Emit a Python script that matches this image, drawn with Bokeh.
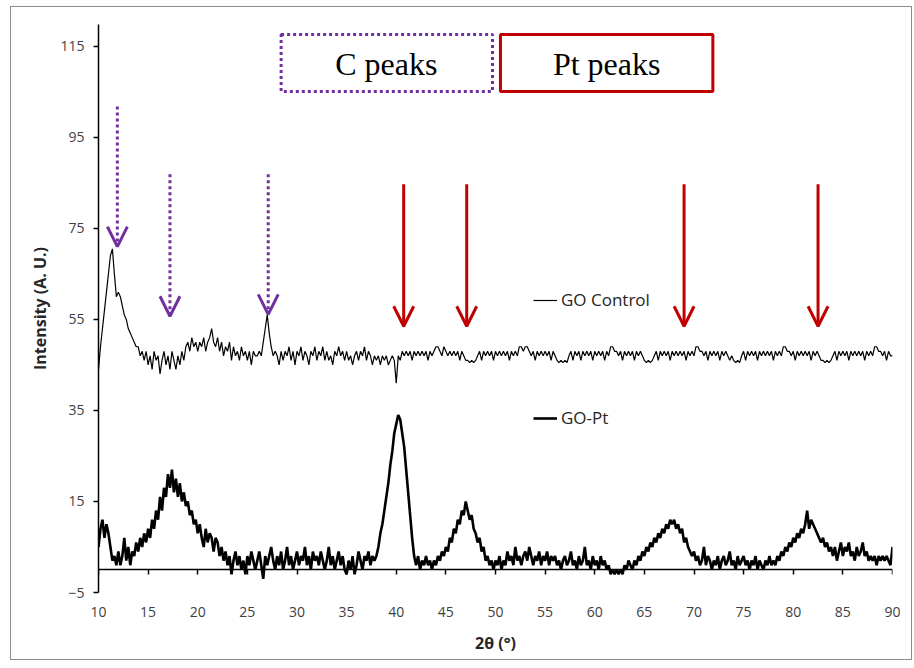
import numpy as np
from bokeh.plotting import figure
from bokeh.models import (Range1d, LinearAxis, FixedTicker, Arrow, OpenHead,
                          BoxAnnotation, Legend, LegendItem, Label)
from bokeh.embed import file_html
from bokeh.resources import INLINE

# ---------------- data ----------------
two_theta_start = 10.0
two_theta_step = 0.2

go_control = [
    44, 49, 53, 57, 61,
    65, 69, 70.5, 65, 60,
    61, 60, 58, 56, 55,
    53, 52, 51, 50, 49,
    49, 47, 48, 46, 48,
    45, 47, 44, 48, 46,
    47, 43, 46, 48, 45,
    47, 44, 48, 46, 44,
    47, 45, 48, 46, 49,
    50, 48, 51, 49, 50,
    48, 50, 49, 51, 48,
    50, 51, 53, 50, 49,
    51, 48, 50, 47, 49,
    48, 50, 46, 49, 47,
    48, 46, 49, 47, 48,
    46, 48, 45, 48, 47,
    47, 48, 47, 50, 53,
    56, 52, 49, 47, 48,
    47, 45, 48, 46, 48,
    47, 49, 46, 48, 45,
    48, 47, 49, 46, 48,
    47, 45, 48, 47, 49,
    46, 48, 47, 49, 46,
    48, 46, 47, 45, 48,
    47, 49, 47, 48, 46,
    48, 46, 47, 45, 47,
    48, 46, 48, 47, 49,
    46, 48, 47, 45, 47,
    46, 47, 45, 47, 46,
    47, 45, 46, 47, 46,
    41, 47, 46, 48, 47,
    48, 47, 48, 46, 48,
    47, 48, 47, 48, 47,
    48, 46, 48, 47, 48,
    49, 49, 48, 47, 49,
    48, 47, 48, 47, 48,
    47, 48, 46, 48, 47,
    46, 46, 45.5, 46, 45.5,
    46, 47, 48, 46, 48,
    47, 48, 47, 48, 46,
    48, 47, 48, 47, 48,
    47, 48, 46, 48, 47,
    48, 47, 49, 49, 48,
    49, 49, 48, 47, 48,
    46, 48, 47, 48, 47,
    48, 47, 48, 46, 48,
    47, 46, 45.5, 46, 45.5,
    46, 45.5, 47, 48, 46,
    48, 47, 48, 46, 48,
    47, 48, 47, 48, 46,
    48, 47, 48, 47, 48,
    46, 48, 47, 49, 49,
    48, 48, 47, 48, 46,
    48, 47, 48, 47, 48,
    46, 48, 47, 48, 47,
    46, 45.5, 46, 45.5, 46,
    47, 48, 46, 48, 47,
    48, 47, 48, 46, 48,
    47, 48, 47, 48, 47,
    48, 46, 48, 47, 48,
    47, 49, 49, 48, 48,
    47, 48, 46, 48, 47,
    48, 47, 48, 46, 48,
    47, 48, 47, 46, 47,
    46, 45.5, 46, 45.5, 47,
    48, 46, 48, 47, 48,
    47, 48, 46, 48, 47,
    48, 47, 48, 47, 48,
    46, 48, 47, 48, 47,
    49, 49, 48, 48, 47,
    48, 46, 48, 47, 48,
    47, 48, 47, 48, 46,
    48, 47, 48, 47, 46,
    46, 45.5, 46, 45.5, 46,
    47, 48, 46, 48, 47,
    48, 47, 48, 46, 48,
    47, 48, 47, 48, 47,
    48, 46, 48, 47, 48,
    47, 49, 49, 48, 48,
    47, 48, 46, 48, 47,
    47,
]

go_pt = [
    5, 9, 11, 7, 10,
    8, 5, 2, 3, 1,
    4, 1, 3, 7, 2,
    5, 1, 4, 3, 6,
    4, 7, 5, 8, 6,
    9, 7, 11, 9, 13,
    11, 16, 13, 18, 16,
    21, 18, 22, 17, 20,
    16, 19, 15, 17, 14,
    15, 12, 13, 10, 11,
    8, 10, 7, 5, 9,
    6, 8, 7, 4, 7,
    6, 3, 5, 2, 4,
    1, 3, -1, 2, 4,
    1, 3, 0, 2, -1,
    3, 1, 4, 2, 0,
    2, 4, 1, -2, 3,
    1, 3, 5, 2, 0,
    3, 1, 4, 0, 2,
    5, 1, 3, 0, 2,
    4, 1, 3, 2, 5,
    1, 3, 0, 4, 2,
    3, 1, 4, 2, 0,
    2, 5, 1, 3, 0,
    2, 4, 1, 3, 0,
    -1, 2, 0, 3, -1,
    1, 4, 2, 0, 3,
    2, 4, 1, 3, 2,
    3, 5, 8, 10, 13,
    16, 19, 23, 26, 30,
    32, 34, 33, 30, 27,
    22, 17, 12, 7, 3,
    1, 3, 0, 2, 1,
    3, 1, 2, 0, 2,
    1, 3, 2, 4, 3,
    5, 4, 7, 6, 9,
    8, 11, 10, 13, 12,
    15, 13, 11, 12, 9,
    8, 6, 7, 4, 5,
    2, 3, 1, 2, 0,
    2, 1, 3, 0, 2,
    1, 4, 2, 3, 1,
    5, 2, 3, 1, 3,
    4, 2, 5, 3, 1,
    3, 2, 4, 1, 3,
    2, 4, 1, 3, 2,
    3, 1, 2, 0, 2,
    3, 1, 2, 4, 1,
    2, 0, 3, 1, 2,
    5, 1, 2, 0, 3,
    1, 2, 0, 3, 1,
    2, 0, 1, -1, 0,
    -1, 0, -1, 0, -1,
    1, 0, 2, 1, 0,
    2, 1, 3, 2, 4,
    3, 5, 4, 6, 5,
    7, 6, 8, 7, 9,
    8, 10, 9, 11, 10,
    11, 9, 10, 8, 9,
    6, 7, 5, 4, 3,
    4, 2, 3, 1, 2,
    5, 1, 3, 2, 0,
    2, 1, 3, 0, 2,
    3, 1, 2, 4, 1,
    2, 0, 3, 1, 2,
    3, 1, 2, 0, 2,
    1, 3, 0, 2, 1,
    0, 2, 1, 3, 1,
    2, 1, 3, 2, 4,
    3, 5, 4, 6, 5,
    7, 6, 8, 7, 9,
    8, 10, 13, 9, 11,
    10, 9, 8, 7, 6,
    7, 5, 6, 4, 5,
    3, 5, 2, 4, 6,
    3, 5, 4, 6, 3,
    4, 2, 5, 3, 4,
    6, 3, 4, 2, 3,
    2, 3, 1, 3, 2,
    3, 2, 3, 2, 1,
    5,
]

x_ticks = [10, 15, 20, 25, 30, 35, 40, 45, 50, 55, 60, 65, 70, 75, 80, 85, 90]
y_ticks = [-5, 15, 35, 55, 75, 95, 115]

c_peak_x = [11.9, 17.2, 27.1]
c_arrow_top = [101.8, 86.9, 86.9]
c_arrow_tip = [71.0, 55.7, 56.1]

pt_peak_x = [40.75, 47.1, 69.0, 82.5]
pt_arrow_top = [84.7, 84.7, 84.7, 84.7]
pt_arrow_tip = [53.5, 53.5, 53.5, 53.5]

two_theta_ctrl = np.round(two_theta_start + two_theta_step * np.arange(len(go_control)), 2)
two_theta_pt = np.round(two_theta_start + two_theta_step * np.arange(len(go_pt)), 2)

# ---------------- figure ----------------
FONT = "Open Sans"
PURPLE = "#7030A0"
RED = "#C00000"

p = figure(width=902, height=654, output_backend="svg", toolbar_location=None,
           x_range=Range1d(10, 90), y_range=Range1d(-5, 119.8),
           min_border_left=87, min_border_right=21, min_border_top=17, min_border_bottom=69,
           background_fill_color="white", border_fill_color="white")
p.margin = (6, 0, 0, 10)
p.styles = {"border": "1px solid #8c8c8c"}
p.outline_line_color = None
p.xgrid.visible = False
p.ygrid.visible = False

# y axis
ya = p.yaxis[0]
ya.ticker = FixedTicker(ticks=y_ticks)
ya.axis_line_color = "black"
ya.axis_line_width = 1.5
ya.major_tick_line_color = "black"
ya.major_tick_line_width = 1.5
ya.major_tick_out = 5
ya.major_tick_in = 0
ya.minor_tick_line_color = None
ya.major_label_standoff = 9
ya.major_label_text_font = FONT
ya.major_label_text_font_size = "14px"
ya.major_label_text_color = "#404040"
ya.axis_label = "Intensity (A. U.)"
ya.axis_label_text_font = FONT
ya.axis_label_text_font_size = "16px"
ya.axis_label_text_font_style = "bold"
ya.axis_label_text_color = "#262626"
ya.axis_label_standoff = 6

# x axis: labels at bottom
xa = p.xaxis[0]
xa.ticker = FixedTicker(ticks=x_ticks)
xa.axis_line_color = None
xa.major_tick_line_color = None
xa.minor_tick_line_color = None
xa.major_tick_out = 0
xa.major_tick_in = 0
xa.major_label_standoff = 14
xa.major_label_text_font = FONT
xa.major_label_text_font_size = "14px"
xa.major_label_text_color = "#404040"
xa.axis_label = "2θ (°)"
xa.axis_label_text_font = FONT
xa.axis_label_text_font_size = "16px"
xa.axis_label_text_font_style = "bold"
xa.axis_label_text_color = "#262626"
xa.axis_label_standoff = 12

# x axis line crossing at y = 0
x0 = LinearAxis(fixed_location=0, ticker=FixedTicker(ticks=x_ticks),
                axis_line_color="black", axis_line_width=1.5,
                major_tick_line_color="black", major_tick_line_width=1.5,
                major_tick_out=5, major_tick_in=0, minor_tick_line_color=None,
                major_label_text_alpha=0, major_label_text_font_size="1px")
p.add_layout(x0, "below")

# series
r_ctrl = p.line(two_theta_ctrl, go_control, line_color="black", line_width=1.2)
r_pt = p.line(two_theta_pt, go_pt, line_color="black", line_width=2.6)

# legends
for item, loc in ((LegendItem(label="GO Control", renderers=[r_ctrl]), (435, 281)),
                  (LegendItem(label="GO-Pt", renderers=[r_pt]), (435, 163))):
    leg = Legend(items=[item], location=loc, padding=0, margin=0, spacing=0,
                 glyph_width=24, glyph_height=20, label_height=20, label_standoff=4,
                 label_text_font=FONT, label_text_font_size="17px",
                 label_text_color="#262626",
                 border_line_color=None, background_fill_alpha=0)
    p.add_layout(leg)

# annotation boxes
p.add_layout(BoxAnnotation(left=28.4, right=49.7, bottom=105.1, top=117.6,
                           fill_alpha=0, line_color=PURPLE, line_alpha=1.0,
                           line_width=3, line_dash="3 3"))
p.add_layout(BoxAnnotation(left=50.5, right=71.9, bottom=105.1, top=117.6,
                           fill_alpha=0, line_color=RED, line_alpha=1.0,
                           line_width=3))
p.add_layout(Label(x=39.0, y=111.2, text="C peaks", text_align="center",
                   text_baseline="alphabetic", text_font="Liberation Serif",
                   text_font_size="32px", text_color="black"))
p.add_layout(Label(x=61.2, y=111.2, text="Pt peaks", text_align="center",
                   text_baseline="alphabetic", text_font="Liberation Serif",
                   text_font_size="32px", text_color="black"))

# arrows
for xx, y0, y1 in zip(c_peak_x, c_arrow_top, c_arrow_tip):
    p.add_layout(Arrow(x_start=xx, y_start=y0, x_end=xx, y_end=y1,
                       line_color=PURPLE, line_width=3, line_dash="3 3",
                       end=OpenHead(size=20, line_color=PURPLE, line_width=3)))
for xx, y0, y1 in zip(pt_peak_x, pt_arrow_top, pt_arrow_tip):
    p.add_layout(Arrow(x_start=xx, y_start=y0, x_end=xx, y_end=y1,
                       line_color=RED, line_width=3,
                       end=OpenHead(size=20, line_color=RED, line_width=3)))

open("out.html", "w").write(file_html(p, INLINE))
